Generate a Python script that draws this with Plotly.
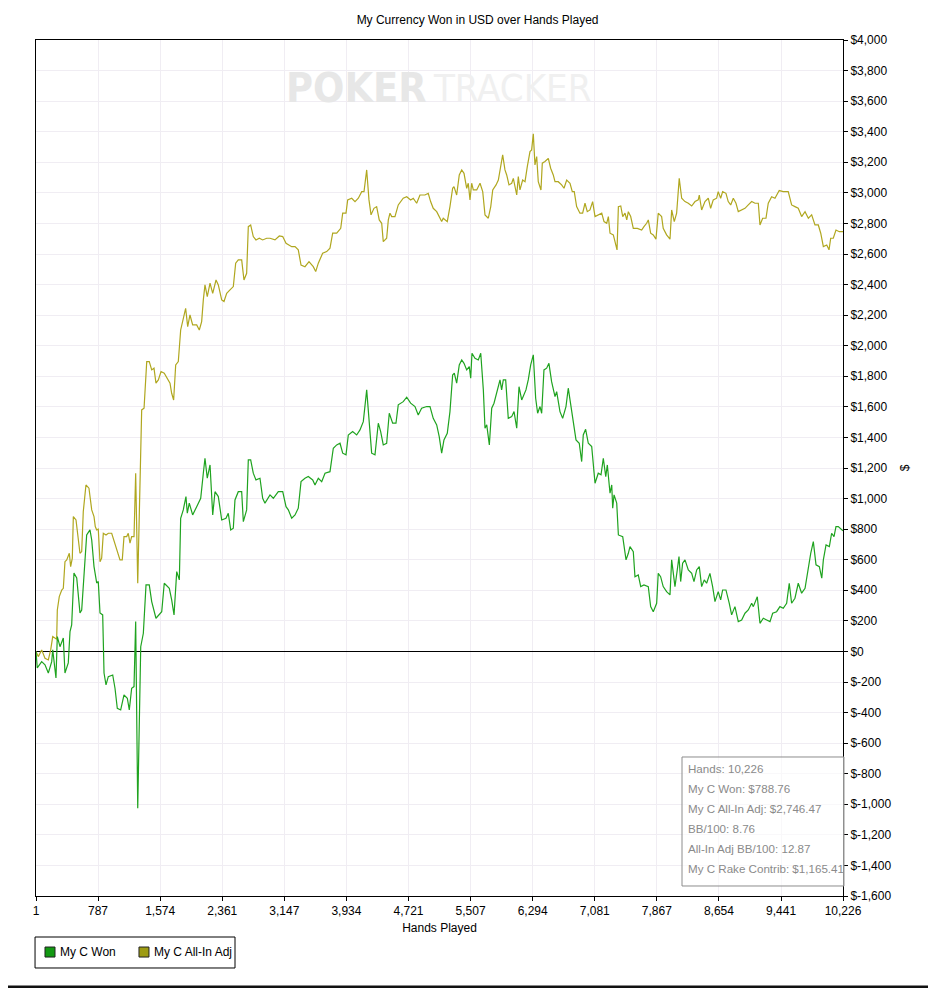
import plotly.graph_objects as go


# 1. ДАННЫЕ

won_hands = [1, 17, 73, 115, 157, 200, 213, 254, 271, 305, 347, 368, 410, 432, 453, 482, 517, 558, 580, 600,
             643, 685, 707, 736, 770, 790, 812, 846, 863, 888, 917, 973, 1002, 1031, 1074, 1116, 1158, 1183,
             1213, 1243, 1264, 1290, 1328, 1361, 1395, 1436, 1467, 1521, 1594, 1626, 1690, 1720, 1750, 1784,
             1817, 1834, 1867, 1901, 1918, 1943, 1986, 2037, 2088, 2121, 2142, 2171, 2206, 2240, 2269, 2311,
             2354, 2408, 2437, 2468, 2501, 2522, 2564, 2607, 2628, 2670, 2691, 2721, 2754, 2788, 2839, 2873,
             2902, 2966, 3008, 3071, 3127, 3169, 3198, 3241, 3283, 3324, 3359, 3409, 3451, 3507, 3536, 3578,
             3621, 3663, 3726, 3768, 3811, 3853, 3887, 3929, 3958, 4013, 4064, 4106, 4148, 4191, 4224, 4254,
             4296, 4338, 4368, 4401, 4444, 4477, 4520, 4562, 4591, 4654, 4698, 4748, 4803, 4844, 4887, 4951,
             4993, 5034, 5078, 5110, 5141, 5170, 5212, 5246, 5280, 5301, 5331, 5364, 5395, 5424, 5458, 5491,
             5509, 5525, 5563, 5605, 5636, 5669, 5690, 5712, 5745, 5775, 5804, 5839, 5880, 5901, 5922, 5952,
             5985, 6028, 6058, 6092, 6121, 6155, 6209, 6238, 6269, 6302, 6332, 6357, 6387, 6408, 6437, 6471,
             6500, 6534, 6577, 6598, 6640, 6674, 6716, 6745, 6779, 6809, 6843, 6884, 6915, 6935, 6965, 6999,
             7042, 7084, 7125, 7160, 7189, 7220, 7240, 7274, 7296, 7308, 7325, 7359, 7380, 7435, 7477, 7506,
             7527, 7569, 7590, 7632, 7663, 7704, 7759, 7789, 7822, 7865, 7885, 7915, 7948, 7991, 8034, 8055,
             8075, 8097, 8126, 8148, 8169, 8194, 8224, 8266, 8309, 8338, 8372, 8405, 8435, 8468, 8498, 8540,
             8574, 8604, 8645, 8676, 8701, 8743, 8785, 8815, 8857, 8899, 8942, 8984, 9026, 9069, 9090, 9140,
             9174, 9216, 9259, 9301, 9335, 9385, 9427, 9469, 9512, 9545, 9575, 9617, 9659, 9702, 9745, 9787,
             9817, 9850, 9884, 9926, 9957, 9977, 10011, 10053, 10082, 10112, 10137, 10166, 10188, 10226]
won_values = [0, -108, -67, -88, -141, -67, 10, -174, 97, 31, 88, -141, -75, 130, 173, 513, 481, 252, 271, 448,
              762, 795, 729, 555, 448, 457, 252, 239, -141, -219, -165, -154, -241, -372, -383, -285, -306, -383,
              -241, -230, 195, -1026, 31, 119, 435, 435, 326, 217, 260, 446, 413, 337, 239, 522,
              468, 871, 926, 1013, 904, 970, 893, 947, 1002, 1166, 1264, 1133, 1220, 893, 1045, 1013,
              860, 871, 904, 795, 806, 991, 1045, 1045, 849, 926, 1253, 1253, 1166, 1122, 1133, 1002,
              970, 1024, 1002, 1045, 1045, 947, 926, 871, 893, 937, 1111, 1133, 1144, 1122, 1089, 1133,
              1111, 1166, 1176, 1329, 1351, 1362, 1297, 1286, 1416, 1438, 1416, 1449, 1503, 1711, 1482, 1297,
              1286, 1493, 1438, 1351, 1362, 1558, 1493, 1493, 1613, 1634, 1663, 1624, 1602, 1547, 1591, 1602,
              1602, 1525, 1482, 1405, 1297, 1384, 1427, 1569, 1809, 1820, 1755, 1874, 1907, 1885, 1842, 1863,
              1787, 1951, 1918, 1907, 1951, 1711, 1460, 1482, 1351, 1591, 1624, 1700, 1776, 1711, 1776, 1776,
              1525, 1536, 1569, 1460, 1732, 1645, 1711, 1776, 1874, 1940, 1656, 1558, 1602, 1558, 1842, 1853,
              1885, 1765, 1667, 1700, 1569, 1525, 1602, 1722, 1602, 1493, 1384, 1362, 1242, 1416, 1453, 1362,
              1340, 1100, 1166, 1155, 1264, 1144, 1220, 1035, 1089, 937, 1024, 970, 762, 751, 599, 642,
              686, 653, 489, 501, 424, 435, 424, 293, 260, 315, 511, 489, 424, 391, 370, 599,
              511, 424, 533, 620, 457, 577, 599, 533, 511, 457, 533, 555, 424, 468, 446, 511,
              424, 326, 391, 337, 402, 402, 315, 239, 293, 195, 206, 250, 271, 315, 293, 358,
              184, 217, 206, 195, 250, 260, 293, 282, 315, 446, 315, 348, 446, 381, 413, 555,
              642, 718, 566, 555, 479, 599, 697, 686, 773, 751, 817, 817, 806, 789]

adj_hands = [1, 30, 73, 115, 157, 187, 213, 242, 263, 271, 296, 327, 347, 368, 390, 423, 440, 461, 474, 508,
             537, 558, 580, 600, 634, 672, 707, 736, 752, 770, 790, 812, 833, 854, 888, 917, 960, 1002, 1031,
             1065, 1094, 1116, 1150, 1170, 1192, 1213, 1243, 1264, 1290, 1310, 1340, 1370, 1404, 1436, 1467,
             1496, 1521, 1551, 1585, 1626, 1670, 1699, 1720, 1745, 1771, 1804, 1834, 1867, 1897, 1923, 1952,
             1986, 2037, 2070, 2100, 2121, 2142, 2171, 2206, 2240, 2282, 2311, 2354, 2383, 2417, 2459, 2501,
             2531, 2564, 2607, 2636, 2670, 2691, 2721, 2754, 2788, 2830, 2873, 2924, 2966, 3029, 3084, 3127,
             3169, 3198, 3241, 3283, 3324, 3359, 3409, 3460, 3514, 3545, 3578, 3633, 3684, 3726, 3760, 3811,
             3862, 3887, 3929, 3950, 4001, 4043, 4085, 4128, 4157, 4191, 4220, 4246, 4283, 4317, 4350, 4381,
             4401, 4444, 4465, 4486, 4508, 4549, 4591, 4654, 4698, 4748, 4781, 4824, 4866, 4929, 4971, 5001,
             5034, 5078, 5110, 5141, 5161, 5212, 5246, 5280, 5297, 5331, 5364, 5395, 5424, 5458, 5478, 5500,
             5521, 5542, 5585, 5627, 5661, 5690, 5732, 5763, 5788, 5830, 5859, 5880, 5914, 5943, 5965, 5994,
             6028, 6049, 6070, 6092, 6112, 6133, 6167, 6197, 6226, 6260, 6281, 6302, 6323, 6345, 6365, 6399,
             6416, 6450, 6492, 6522, 6555, 6577, 6618, 6661, 6691, 6725, 6767, 6796, 6821, 6851, 6893, 6927,
             6957, 6986, 7020, 7054, 7084, 7125, 7169, 7198, 7232, 7253, 7274, 7316, 7347, 7363, 7380, 7410,
             7435, 7464, 7486, 7506, 7536, 7569, 7620, 7675, 7704, 7738, 7759, 7789, 7822, 7856, 7885, 7928,
             7948, 7991, 8034, 8055, 8088, 8118, 8151, 8182, 8224, 8266, 8309, 8351, 8392, 8405, 8435, 8477,
             8519, 8549, 8582, 8625, 8645, 8676, 8701, 8743, 8772, 8803, 8836, 8870, 8899, 8942, 8984, 9026,
             9069, 9111, 9153, 9174, 9208, 9250, 9279, 9322, 9364, 9418, 9469, 9532, 9575, 9617, 9659, 9702,
             9745, 9787, 9829, 9871, 9913, 9944, 9977, 10020, 10049, 10070, 10103, 10137, 10179, 10226]
adj_values = [0, -34, 10, -45, -56, 10, 97, 86, 80, 271, 359, 402, 413, 587, 599, 642, 555, 610, 882, 860,
              729, 642, 653, 915, 1089, 1068, 926, 882, 817, 795, 800, 587, 610, 773, 762, 773, 773, 708, 664,
              599, 599, 751, 751, 773, 708, 751, 751, 1166, 446, 882, 1580, 1591, 1896, 1896, 1842,
              1853, 1755, 1776, 1831, 1820, 1776, 1755, 1689, 1645, 1874, 1896, 2103, 2169, 2245, 2125, 2201,
              2136, 2136, 2103, 2158, 2300, 2398, 2321, 2409, 2343, 2430, 2398, 2300, 2289, 2343, 2365, 2387,
              2540, 2561, 2561, 2430, 2474, 2779, 2790, 2714, 2692, 2703, 2692, 2703, 2703, 2692, 2718, 2714,
              2670, 2659, 2648, 2648, 2627, 2528, 2517, 2550, 2517, 2485, 2540, 2605, 2616, 2638, 2736, 2736,
              2768, 2867, 2867, 2954, 2965, 2943, 2965, 3008, 3008, 3150, 2954, 2856, 2899, 2910, 2823, 2801,
              2681, 2703, 2823, 2867, 2845, 2845, 2921, 2965, 2975, 2954, 2965, 2932, 2986, 2986, 2997, 2943,
              2899, 2877, 2845, 2812, 2834, 2812, 2910, 3030, 3041, 2986, 3117, 3150, 3128, 3030, 3063, 2954,
              3063, 3019, 3019, 3063, 3008, 2856, 2834, 2910, 3019, 3052, 3084, 3150, 3248, 3150, 3117, 3052,
              3063, 3095, 3041, 2986, 3106, 3019, 3084, 3073, 3172, 3270, 3281, 3386, 3183, 3237, 3073, 3019,
              3194, 3205, 3226, 3161, 3117, 3073, 3073, 3052, 3030, 3084, 3063, 3008, 3008, 2910, 2867, 2867,
              2932, 2877, 2888, 2943, 2845, 2856, 2867, 2812, 2801, 2845, 2736, 2725, 2670, 2627, 2910, 2914,
              2845, 2867, 2823, 2877, 2845, 2768, 2768, 2757, 2779, 2801, 2823, 2736, 2725, 2697, 2867, 2845,
              2768, 2725, 2697, 2888, 2812, 2867, 3095, 2965, 2943, 2932, 2914, 2943, 2954, 2986, 2888, 2943,
              2965, 2899, 2954, 2965, 3008, 2965, 3008, 2997, 2943, 2921, 2965, 2932, 2877, 2888, 2899, 2921,
              2943, 2932, 2932, 2790, 2834, 2834, 2932, 2975, 2965, 3015, 3008, 3008, 2921, 2910, 2899, 2845,
              2877, 2834, 2856, 2790, 2790, 2736, 2648, 2659, 2627, 2703, 2703, 2757, 2746, 2746]

x_tickvals = [1, 787, 1574, 2361, 3147, 3934, 4721, 5507, 6294, 7081, 7867, 8654, 9441, 10226]
x_ticktext = ['1', '787', '1,574', '2,361', '3,147', '3,934', '4,721', '5,507', '6,294', '7,081',
              '7,867', '8,654', '9,441', '10,226']
y_tickvals = list(range(-1600, 4001, 200))
y_ticktext = ['$-1,600', '$-1,400', '$-1,200', '$-1,000', '$-800', '$-600', '$-400', '$-200', '$0',
              '$200', '$400', '$600', '$800', '$1,000', '$1,200', '$1,400', '$1,600', '$1,800', '$2,000',
              '$2,200', '$2,400', '$2,600', '$2,800', '$3,000', '$3,200', '$3,400', '$3,600', '$3,800', '$4,000']

stats_lines = ['Hands: 10,226', 'My C Won: $788.76', 'My C All-In Adj: $2,746.47',
               'BB/100: 8.76', 'All-In Adj BB/100: 12.87', 'My C Rake Contrib: $1,165.41']
legend_names = ['My C Won', 'My C All-In Adj']

GREEN = '#1fa31f'
OLIVE = '#b0a71f'
FONT = 'Liberation Sans, Arial, sans-serif'
WM_FONT = 'Liberation Sans Narrow, DejaVu Sans Condensed, sans-serif'


# 2. ЛИНИИ

fig = go.Figure()
fig.add_trace(go.Scatter(x=adj_hands, y=adj_values, mode='lines', name=legend_names[1],
                         line=dict(color=OLIVE, width=1.2), hoverinfo='skip'))
fig.add_trace(go.Scatter(x=won_hands, y=won_values, mode='lines', name=legend_names[0],
                         line=dict(color=GREEN, width=1.2), hoverinfo='skip'))


# 3. ОФОРМЛЕНИЕ
# страница добавляет отступ 8px слева и сверху, поэтому холст на 8px меньше

fig.update_layout(
    width=928, height=980,
    margin=dict(l=28, r=93, t=32, b=92),
    paper_bgcolor='white', plot_bgcolor='white',
    font=dict(family=FONT, size=12, color='black'),
    title=dict(text='My Currency Won in USD over Hands Played', x=0.506, xanchor='center',
               y=0.988, yanchor='middle', font=dict(size=12)),
    showlegend=False,
)

fig.update_xaxes(range=[1, 10226], tickvals=x_tickvals, ticktext=x_ticktext,
                 ticks='outside', ticklen=4, tickcolor='black',
                 showgrid=True, gridcolor='#f0edf3', gridwidth=1,
                 showline=True, linecolor='black', linewidth=1, mirror=True,
                 zeroline=False, title=dict(text='Hands Played', standoff=6, font=dict(size=12)),
                 tickfont=dict(size=12))
fig.update_yaxes(range=[-1600, 4000], tickvals=y_tickvals, ticktext=y_ticktext, side='right',
                 ticks='outside', ticklen=4, tickcolor='black',
                 showgrid=True, gridcolor='#f0edf3', gridwidth=1,
                 showline=True, linecolor='black', linewidth=1, mirror=True,
                 zeroline=True, zerolinecolor='black', zerolinewidth=1,
                 title=dict(text='$', standoff=10, font=dict(size=12)), tickfont=dict(size=12))

# водяной знак
fig.add_annotation(text='<b>POKER</b>', x=0.487, y=0.944, xref='paper', yref='paper',
                   xanchor='right', yanchor='middle', showarrow=False,
                   font=dict(family=WM_FONT, size=41, color='#e7e7e7'))
fig.add_annotation(text='TRACKER', x=0.489, y=0.944, xref='paper', yref='paper',
                   xanchor='left', yanchor='middle', showarrow=False,
                   font=dict(family=WM_FONT, size=38, color='#f0f0f0'))

# блок статистики
fig.add_shape(type='rect', xref='paper', yref='paper', x0=0.8005, x1=1.0012, y0=0.0117, y1=0.1624,
              line=dict(color='#8c8c8c', width=1), fillcolor='rgba(255,255,255,0.6)')
for i, line in enumerate(stats_lines):
    fig.add_annotation(text=line, x=0.8055, y=0.1484 - i * 0.02336, xref='paper', yref='paper',
                       xanchor='left', yanchor='middle', showarrow=False,
                       font=dict(family=FONT, size=11.6, color='#8a8a8a'))

# легенда вручную: рамка, квадратики и подписи
fig.add_shape(type='rect', xref='paper', yref='paper', x0=-0.0012, x1=0.2466, y0=-0.0841, y1=-0.0479,
              line=dict(color='black', width=1), fillcolor='white')
legend_colors = ['#129912', '#9d9b12']
legend_x = [0.01115, 0.1276]
for name, col, lx in zip(legend_names, legend_colors, legend_x):
    fig.add_shape(type='rect', xref='paper', yref='paper', x0=lx, x1=lx + 0.0124, y0=-0.0713, y1=-0.0596,
                  line=dict(color='#222', width=1), fillcolor=col)
    fig.add_annotation(text=name, x=lx + 0.0161, y=-0.0654, xref='paper', yref='paper',
                       xanchor='left', yanchor='middle', showarrow=False,
                       font=dict(family=FONT, size=12, color='black'))

# нижняя рамка картинки
fig.add_shape(type='line', xref='paper', yref='paper', x0=-0.05, x1=1.1136, y0=-0.1063, y1=-0.1063,
              line=dict(color='#111', width=3))

fig.write_html('out.html')
